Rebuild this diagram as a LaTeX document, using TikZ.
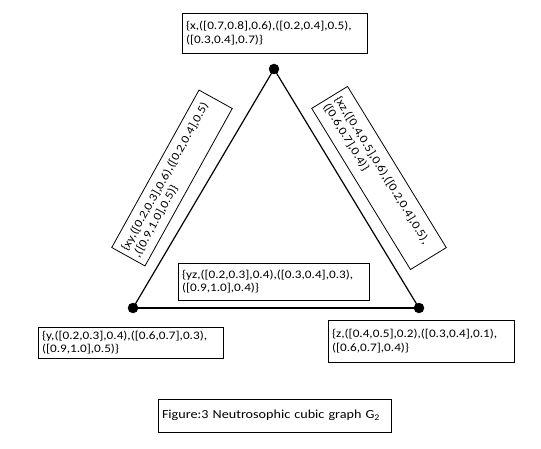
\documentclass[tikz,border=0pt]{standalone}
\usepackage{fontspec}
\setmainfont{Carlito}[FakeStretch=1.15]
\usetikzlibrary{calc,positioning}

\tikzset{
  lbl/.style={draw, line width=0.8pt, align=left, inner xsep=4pt, inner ysep=3pt,
              font=\fontsize{11.5}{13.3}\selectfont},
  edge/.style={line width=1.2pt}
}

\begin{document}
\begin{tikzpicture}[x=1pt,y=-1pt]

    \useasboundingbox (0,0) rectangle (541,449);

    % vertices
    \coordinate (X) at (274,69);
    \coordinate (Y) at (133,308);
    \coordinate (Z) at (419,308);

    % edges
    \draw[edge] (X) -- (Y);
    \draw[edge] (Y) -- (Z);
    \draw[edge] (Z) -- (X);

    \draw[fill=black] (X) circle (5pt);
    \draw[fill=black] (Y) circle (5pt);
    \draw[fill=black] (Z) circle (5pt);

    % vertex labels
    \node[lbl, text width=177pt, minimum height=40pt] (LX) at (274.5,33)
        {\{x,([0.7,0.8],0.6),([0.2,0.4],0.5),\\([0.3,0.4],0.7)\}};
    \node[lbl, text width=177pt, minimum height=31pt] (LY) at (130.5,342.5)
        {\{y,([0.2,0.3],0.4),([0.6,0.7],0.3),\\([0.9,1.0],0.5)\}};
    \node[lbl, text width=178pt, minimum height=42pt] (LZ) at (421,341)
        {\{z,([0.4,0.5],0.2),([0.3,0.4],0.1),\\([0.6,0.7],0.4)\}};

    % edge labels
    \node[lbl, text width=183pt, minimum height=37pt] (LYZ) at (273.5,281.5)
        {\{yz,([0.2,0.3],0.4),([0.3,0.4],0.3),\\([0.9,1.0],0.4)\}};
    \node[lbl, text width=172pt, minimum height=38pt, rotate=61] (LXY) at (172,178)
        {\{xy,([0.2,0.3],0.6),([0.2,0.4],0.5)\\,([0.9,1.0],0.5)\}};
    \node[lbl, text width=181pt, minimum height=42pt, rotate=-58.5] (LXZ) at (379,178)
        {\{xz,([0.4,0.5],0.6),([0.2,0.4],0.5),\\([0.6,0.7],0.4)\}};

    % caption
    \node[lbl, text width=225pt, minimum height=33pt, font=\fontsize{12.3}{14}\selectfont]
        (Cap) at (274.5,415.5) {Figure:3 Neutrosophic cubic graph G\textsubscript{2}};

\end{tikzpicture}
\end{document}
